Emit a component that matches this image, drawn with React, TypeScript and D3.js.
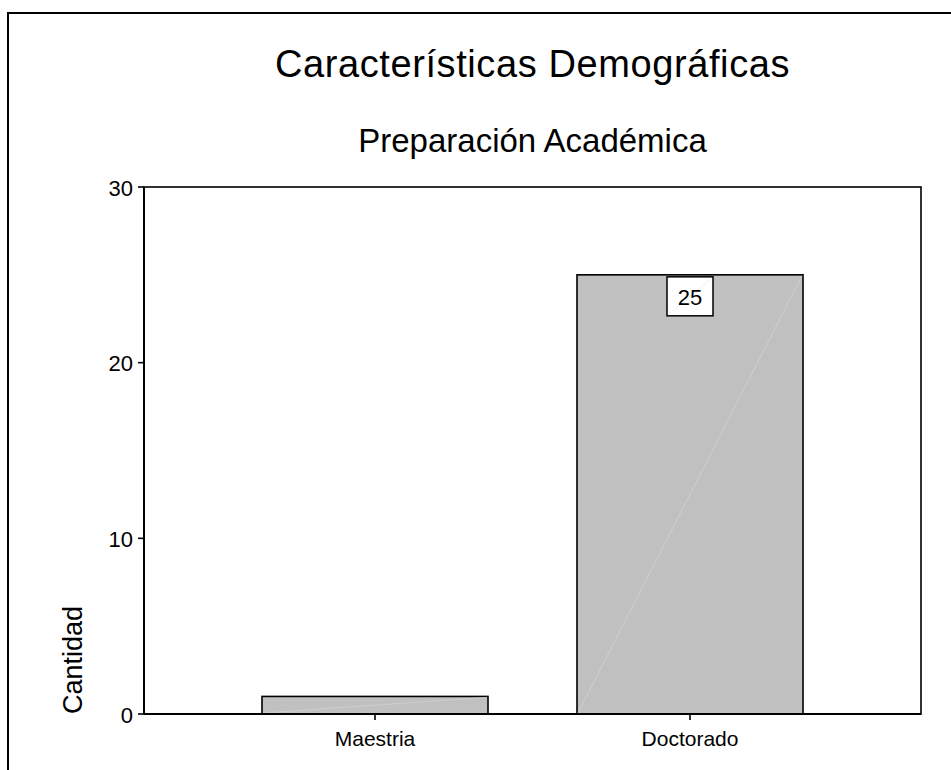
import React from "react";
import * as d3 from "d3";

// Academic preparation counts
const categories: string[] = ["Maestria", "Doctorado"];
const counts: number[] = [1, 25];
const yTicks: number[] = [0, 10, 20, 30];
const labelledCategories: string[] = ["Doctorado"];

const title = "Características Demográficas";
const subtitle = "Preparación Académica";
const yLabel = "Cantidad";

const W = 951;
const H = 770;
const FONT = "Arial, 'Liberation Sans', Helvetica, sans-serif";

export default function App() {
  const plot = { left: 144, right: 921, top: 187, bottom: 714 };

  const x = d3
    .scaleBand<string>()
    .domain(categories)
    .range([plot.left, plot.right])
    .paddingInner(0.2825)
    .paddingOuter(0.3746);

  const y = d3.scaleLinear().domain([0, 30]).range([plot.bottom, plot.top]);
  const cx = (plot.left + plot.right) / 2;

  return (
    <svg
      width={W}
      height={H}
      style={{ position: "absolute", left: 0, top: 0, display: "block", background: "#fff" }}
      fontFamily={FONT}
    >
      {/* outer frame */}
      <rect x={8} y={13} width={1000} height={900} fill="none" stroke="#000" strokeWidth={2} />

      <text x={cx} y={77} textAnchor="middle" fontSize={38} letterSpacing={0.6} fill="#000">
        {title}
      </text>
      <text x={cx} y={152} textAnchor="middle" fontSize={33} fill="#000">
        {subtitle}
      </text>

      {/* bars */}
      {categories.map((c, i) => {
        const x0 = x(c)!;
        const bw = x.bandwidth();
        const yTop = y(counts[i]);
        return (
          <g key={c}>
            <rect
              x={x0}
              y={yTop}
              width={bw}
              height={y(0) - yTop}
              fill="#c0c0c0"
              stroke="#000"
              strokeWidth={1.6}
            />
            <line
              x1={x0 + 1}
              y1={y(0) - 1}
              x2={x0 + bw - 1}
              y2={yTop + 1}
              stroke="#d4d4d4"
              strokeWidth={0.7}
            />
          </g>
        );
      })}

      {/* value labels */}
      {categories.map((c, i) => {
        if (!labelledCategories.includes(c)) return null;
        const mid = x(c)! + x.bandwidth() / 2;
        const bx = mid - 23;
        const by = y(counts[i]) + 2;
        return (
          <g key={"lab-" + c}>
            <rect x={bx} y={by} width={46} height={39} fill="#fff" stroke="#000" strokeWidth={1.5} />
            <line x1={bx + 2} y1={by + 37} x2={bx + 44} y2={by + 2} stroke="#e6e6e6" strokeWidth={0.6} />
            <text x={mid} y={by + 28} textAnchor="middle" fontSize={22} fill="#000">
              {counts[i]}
            </text>
          </g>
        );
      })}

      {/* plot frame */}
      <rect
        x={plot.left}
        y={plot.top}
        width={plot.right - plot.left}
        height={plot.bottom - plot.top}
        fill="none"
        stroke="#000"
        strokeWidth={1.6}
      />
      <line x1={plot.left} y1={plot.bottom} x2={plot.right} y2={plot.bottom} stroke="#000" strokeWidth={2} />
      <line x1={plot.left} y1={plot.top} x2={plot.left} y2={plot.bottom} stroke="#000" strokeWidth={2} />

      {/* y axis */}
      {yTicks.map((t) => (
        <g key={t}>
          <line x1={plot.left - 6} x2={plot.left} y1={y(t)} y2={y(t)} stroke="#000" strokeWidth={1.6} />
          <text x={plot.left - 11} y={y(t) + 8.5} textAnchor="end" fontSize={22} fill="#000">
            {t}
          </text>
        </g>
      ))}

      {/* x axis */}
      {categories.map((c) => {
        const mid = x(c)! + x.bandwidth() / 2;
        return (
          <g key={"tick-" + c}>
            <line x1={mid} x2={mid} y1={plot.bottom} y2={plot.bottom + 6} stroke="#000" strokeWidth={1.6} />
            <text x={mid} y={746} textAnchor="middle" fontSize={21} fill="#000">
              {c}
            </text>
          </g>
        );
      })}

      <text
        transform={`translate(82, ${plot.bottom}) rotate(-90)`}
        textAnchor="start"
        fontSize={27}
        fill="#000"
      >
        {yLabel}
      </text>
    </svg>
  );
}
